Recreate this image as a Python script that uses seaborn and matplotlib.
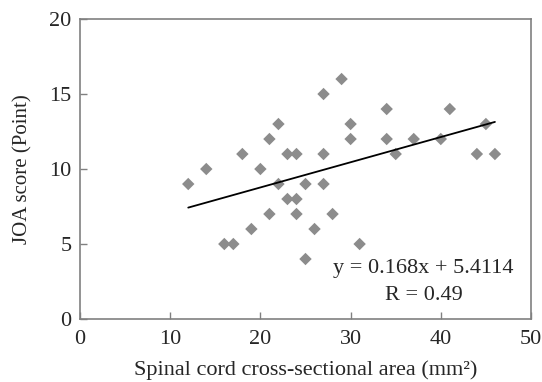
import matplotlib
matplotlib.use("Agg")
import matplotlib.pyplot as plt
import seaborn as sns
import numpy as np
import pandas as pd

area = [12, 14, 16, 17, 18, 19, 20, 21, 21, 22, 22, 23, 23, 24, 24, 24, 25, 25,
        26, 27, 27, 27, 28, 29, 30, 30, 31, 34, 34, 35, 37, 40, 41, 44, 45, 46]
joa = [9, 10, 5, 5, 11, 6, 10, 7, 12, 13, 9, 11, 8, 11, 8, 7, 9, 4,
       6, 15, 11, 9, 7, 16, 13, 12, 5, 14, 12, 11, 12, 12, 14, 11, 13, 11]
slope = 0.168
intercept = 5.4114
r_value = 0.49
x_ticks = [0, 10, 20, 30, 40, 50]
y_ticks = [0, 5, 10, 15, 20]

df = pd.DataFrame({"area": area, "joa": joa})

sns.set_theme(style="white")
plt.rcParams["font.family"] = ["Liberation Serif", "DejaVu Serif"]

fig = plt.figure(figsize=(5.42, 3.82), dpi=100)
ax = fig.add_axes([0.1476, 0.1649, 0.8321, 0.7853])

sns.scatterplot(data=df, x="area", y="joa", marker="D", s=40, color="#8c8c8c",
                edgecolor="none", ax=ax, zorder=3)

xl = np.array([min(area), max(area)])
sns.lineplot(x=xl, y=slope * xl + intercept, color="black", linewidth=1.3, ax=ax, zorder=4)

ax.set_xlim(0, 50)
ax.set_ylim(0, 20)
ax.set_xticks(x_ticks)
ax.set_yticks(y_ticks)
ax.tick_params(bottom=True, left=True, top=False, right=False,
               direction="in", length=5, width=1, color="#808080",
               labelsize=16, labelcolor="#262626")
ax.tick_params(axis="x", pad=8)
ax.tick_params(axis="y", pad=6)
for sp in ax.spines.values():
    sp.set_color("#808080")
    sp.set_linewidth(1.2)

ax.set_xlabel("Spinal cord cross-sectional area (mm²)", fontsize=16, color="#262626", labelpad=8)
ax.set_ylabel("JOA score (Point)", fontsize=15, color="#262626", labelpad=12)

ax.text(0.762, 0.17, f"y = {slope}x + {intercept}", transform=ax.transAxes,
        ha="center", va="center", fontsize=16, color="#262626")
ax.text(0.762, 0.08, f"R = {r_value}", transform=ax.transAxes,
        ha="center", va="center", fontsize=16, color="#262626")

fig.savefig("out.png", dpi=100)
